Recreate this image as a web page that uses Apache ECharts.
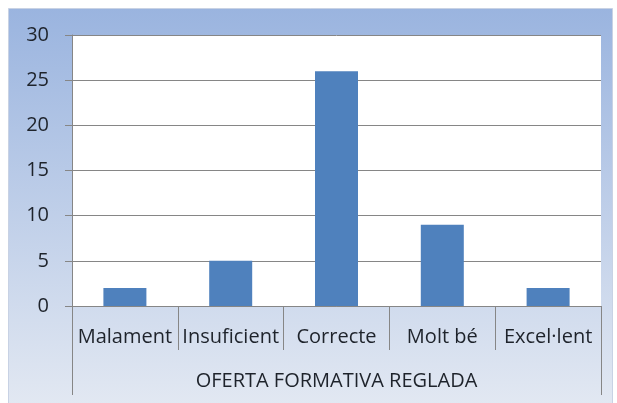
<!DOCTYPE html>
<html><head><meta charset="utf-8">
<script src="https://cdn.jsdelivr.net/npm/echarts@6/dist/echarts.min.js"></script>
<style>html,body{margin:0;padding:0;background:#fff}#c{width:617px;height:403px}</style>
</head><body><div id="c"></div>
<script>
const categories = ['Malament', 'Insuficient', 'Correcte', 'Molt bé', 'Excel·lent'];
const values = [2, 5, 26, 9, 2];
const groupLabel = ['OFERTA FORMATIVA REGLADA'];
const yTicks = [0, 5, 10, 15, 20, 25, 30];

const chart = echarts.init(document.getElementById('c'));
const font = '"Open Sans", Lato, sans-serif';
const grey = '#868686';
const txt = '#1e232b';
chart.setOption({
  animation: false,
  graphic: [{
    type: 'rect', left: 8, top: 8, z: -10, silent: true,
    shape: { width: 604, height: 395 },
    style: {
      fill: new echarts.graphic.LinearGradient(0, 0, 0, 1, [
        { offset: 0, color: '#9ab4df' },
        { offset: 1, color: '#e2e8f2' }
      ]),
      stroke: '#c8d2e4', lineWidth: 1
    }
  }],
  grid: { left: 72, right: 16, top: 35, bottom: 97, show: true, backgroundColor: '#fff', borderWidth: 0 },
  xAxis: [{
    type: 'category', data: categories, position: 'bottom',
    axisLine: { lineStyle: { color: grey, width: 1 } },
    axisTick: { show: true, length: 44, lineStyle: { color: grey } },
    axisLabel: { color: txt, fontSize: 20, fontFamily: font, margin: 21, interval: 0 }
  }, {
    type: 'category', data: groupLabel, position: 'bottom', offset: 44,
    axisLine: { show: false },
    axisTick: { show: true, length: 45, lineStyle: { color: grey } },
    axisLabel: { color: txt, fontSize: 20, fontFamily: font, margin: 21 }
  }],
  yAxis: {
    type: 'value', min: 0, max: 30, interval: 5,
    axisLine: { show: true, lineStyle: { color: grey } },
    axisTick: { show: true, length: 7, lineStyle: { color: grey } },
    axisLabel: { color: txt, fontSize: 20, fontFamily: font, margin: 23,
      formatter: v => yTicks.includes(v) ? String(v) : '' },
    splitLine: { lineStyle: { color: grey, width: 1 } }
  },
  series: [{
    type: 'bar', data: values, xAxisIndex: 0, barWidth: 43,
    itemStyle: { color: '#4f81bd' }
  }]
});
</script></body></html>
